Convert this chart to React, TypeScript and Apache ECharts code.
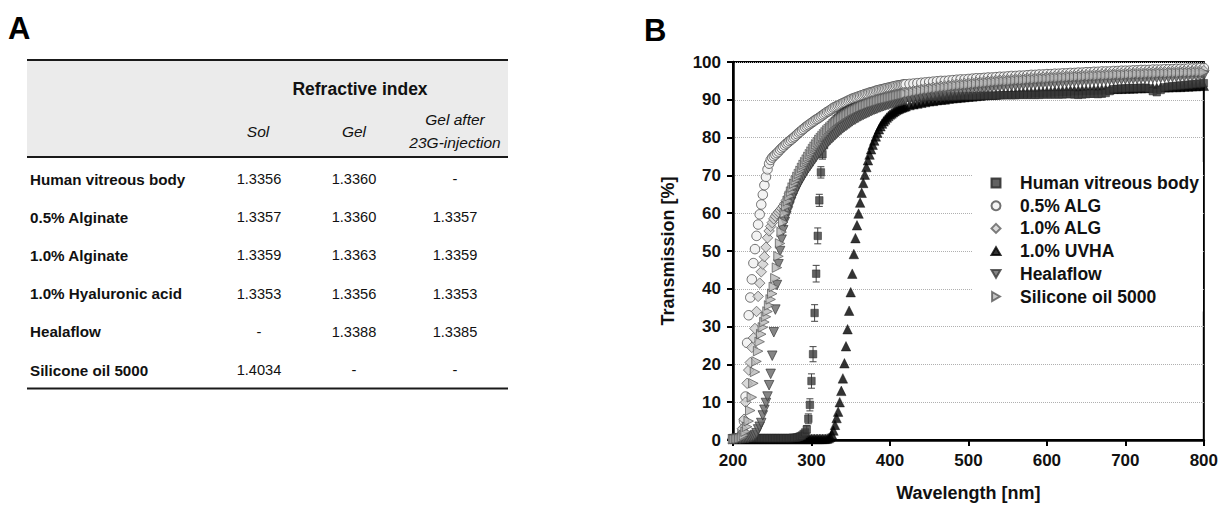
import { useEffect, useRef } from "react";
import * as echarts from "echarts";

const FONT = "'Liberation Sans', Arial, Helvetica, sans-serif";

// ---------- Panel A: refractive index table ----------
const tableTitle = "Refractive index";
const columnHeaders = [["Sol"], ["Gel"], ["Gel after", "23G-injection"]];
const tableRowLabels = [
  "Human vitreous body",
  "0.5% Alginate",
  "1.0% Alginate",
  "1.0% Hyaluronic acid",
  "Healaflow",
  "Silicone oil 5000",
];
const solValues = ["1.3356", "1.3357", "1.3359", "1.3353", "-", "1.4034"];
const gelValues = ["1.3360", "1.3360", "1.3363", "1.3356", "1.3388", "-"];
const gelInjValues = ["-", "1.3357", "1.3359", "1.3353", "1.3385", "-"];

// ---------- Panel B: transmission spectra ----------
const seriesNames = [
  "Human vitreous body",
  "0.5% ALG",
  "1.0% ALG",
  "1.0% UVHA",
  "Healaflow",
  "Silicone oil 5000",
];
const xTickValues = [200, 300, 400, 500, 600, 700, 800];

// sampling grid of wavelengths (nm): 200-420 every 2 nm, 425-800 every 5 nm
const wavelengths: number[] = [];
for (let w = 200; w <= 420; w += 2) wavelengths.push(w);
for (let w = 425; w <= 800; w += 5) wavelengths.push(w);

const hvb = [
  0.5, 0.5, 0.5, 0.5, 0.5, 0.5, 0.5, 0.5, 0.5, 0.5,
  0.5, 0.5, 0.5, 0.5, 0.5, 0.5, 0.5, 0.5, 0.5, 0.5,
  0.5, 0.5, 0.5, 0.5, 0.5, 0.5, 0.5, 0.5, 0.5, 0.5,
  0.5, 0.5, 0.5, 0.5, 0.5, 0.5, 0.5, 0.5, 0.6, 0.6,
  0.6, 0.7, 0.8, 1.0, 1.2, 1.6, 2.0, 2.8, 5.6, 9.3,
  15.6, 22.7, 33.6, 44.0, 54.0, 63.4, 70.8, 75.6, 78.0, 79.6,
  80.8, 81.8, 82.6, 83.3, 83.9, 84.4, 84.9, 85.3, 85.7, 86.0,
  86.3, 86.6, 86.9, 87.1, 87.3, 87.5, 87.7, 87.9, 88.0, 88.2,
  88.3, 88.4, 88.6, 88.7, 88.8, 88.9, 89.0, 89.1, 89.2, 89.3,
  89.4, 89.5, 89.5, 89.6, 89.7, 89.8, 89.8, 89.9, 90.0, 90.0,
  90.1, 90.2, 90.2, 90.3, 90.3, 90.4, 90.4, 90.5, 90.5, 90.6,
  90.6,
  90.6, 90.6, 90.7, 90.7, 90.7, 90.8, 90.8, 90.8, 90.8, 90.9,
  90.9, 90.9, 90.9, 91.0, 91.0, 91.0, 91.0, 91.0, 91.1, 91.1,
  91.1, 91.1, 91.1, 91.2, 91.2, 91.2, 91.2, 91.2, 91.3, 91.3,
  91.3, 91.3, 91.3, 91.3, 91.4, 91.4, 91.4, 91.4, 91.4, 91.4,
  91.5, 91.5, 91.4, 91.3, 91.4, 91.5, 91.6, 91.6, 91.5, 91.6,
  91.8, 92.3, 92.8, 92.9, 93.0, 93.0, 93.1, 93.1, 93.1, 93.2,
  93.2, 93.0, 92.3, 92.0, 92.6, 93.3, 93.5, 93.6, 93.7, 93.8,
  93.9, 94.0, 94.1, 94.2, 94.3, 94.4,
];
const hvbErrNm = [294, 296, 298, 300, 302, 304, 306, 308, 310, 312, 314];
const hvbSd = [1.0, 1.3, 1.6, 1.9, 2.0, 2.2, 2.2, 2.1, 1.6, 1.5, 1.3];

const alg05 = [
  0.3, 0.3, 0.4, 0.5, 0.7, 1.0, 2.5, 5.0, 11.5, 25.7,
  33.0, 37.7, 42.5, 46.8, 50.5, 54.0, 57.0, 59.7, 62.3, 64.9,
  67.4, 69.6, 71.6, 73.1, 74.1, 74.7, 75.1, 75.5, 75.9, 76.3,
  76.8, 77.2, 77.6, 78.0, 78.4, 78.7, 79.1, 79.4, 79.8, 80.1,
  80.5, 80.9, 81.3, 81.6, 82.0, 82.3, 82.7, 83.0, 83.3, 83.6,
  83.9, 84.2, 84.5, 84.8, 85.0, 85.3, 85.6, 85.9, 86.2, 86.5,
  86.8, 87.0, 87.3, 87.6, 87.9, 88.1, 88.3, 88.5, 88.7, 88.9,
  89.1, 89.3, 89.5, 89.7, 89.9, 90.1, 90.3, 90.4, 90.6, 90.7,
  90.9, 91.0, 91.2, 91.3, 91.5, 91.6, 91.7, 91.9, 92.0, 92.1,
  92.2, 92.4, 92.5, 92.6, 92.7, 92.8, 92.9, 93.0, 93.1, 93.2,
  93.3, 93.4, 93.5, 93.6, 93.7, 93.8, 93.8, 93.9, 94.0, 94.1,
  94.1,
  94.2, 94.3, 94.4, 94.5, 94.6, 94.7, 94.8, 94.9, 95.0, 95.0,
  95.1, 95.2, 95.3, 95.4, 95.4, 95.5, 95.6, 95.7, 95.7, 95.8,
  95.9, 95.9, 96.0, 96.1, 96.1, 96.2, 96.3, 96.3, 96.4, 96.4,
  96.5, 96.6, 96.6, 96.7, 96.7, 96.8, 96.8, 96.9, 96.9, 97.0,
  97.0, 97.1, 97.1, 97.2, 97.2, 97.3, 97.3, 97.4, 97.4, 97.5,
  97.5, 97.5, 97.6, 97.6, 97.7, 97.7, 97.7, 97.8, 97.8, 97.9,
  97.9, 97.9, 98.0, 98.0, 98.0, 98.1, 98.1, 98.1, 98.2, 98.2,
  98.2, 98.3, 98.3, 98.3, 98.4, 98.4,
];

const alg10 = [
  0.3, 0.3, 0.4, 0.5, 0.8, 1.5, 3.0, 5.5, 10.0, 15.0,
  18.5, 20.5, 24.5, 27.0, 29.5, 34.0, 38.0, 41.5, 44.5, 46.5,
  48.5, 51.0, 53.5, 55.3, 56.5, 57.5, 58.5, 59.2, 59.8, 60.3,
  60.8, 61.3, 61.9, 62.6, 63.4, 64.3, 65.2, 66.1, 67.0, 67.8,
  68.6, 69.4, 70.1, 70.8, 71.5, 72.2, 72.9, 73.6, 74.3, 75.0,
  75.8, 76.5, 77.2, 77.9, 78.6, 79.2, 79.8, 80.4, 81.0, 81.5,
  82.0, 82.5, 82.9, 83.3, 83.7, 84.1, 84.5, 84.8, 85.1, 85.4,
  85.7, 86.0, 86.3, 86.5, 86.8, 87.0, 87.3, 87.5, 87.7, 87.9,
  88.1, 88.3, 88.5, 88.7, 88.8, 89.0, 89.2, 89.3, 89.5, 89.6,
  89.8, 89.9, 90.0, 90.2, 90.3, 90.4, 90.5, 90.7, 90.8, 90.9,
  91.0, 91.1, 91.2, 91.3, 91.4, 91.5, 91.6, 91.7, 91.8, 91.9,
  92.0,
  92.2, 92.4, 92.6, 92.8, 93.0, 93.1, 93.3, 93.4, 93.6, 93.7,
  93.8, 94.0, 94.1, 94.2, 94.3, 94.4, 94.5, 94.6, 94.7, 94.8,
  94.9, 95.0, 95.1, 95.2, 95.3, 95.3, 95.4, 95.5, 95.6, 95.6,
  95.7, 95.8, 95.8, 95.9, 96.0, 96.0, 96.1, 96.2, 96.2, 96.3,
  96.3, 96.4, 96.4, 96.5, 96.5, 96.6, 96.6, 96.7, 96.7, 96.8,
  96.8, 96.9, 96.9, 97.0, 97.0, 97.0, 97.1, 97.1, 97.2, 97.2,
  97.2, 97.3, 97.3, 97.3, 97.4, 97.4, 97.4, 97.5, 97.5, 97.5,
  97.6, 97.6, 97.6, 97.7, 97.7, 97.7,
];

const uvha = [
  0.3, 0.3, 0.3, 0.3, 0.3, 0.3, 0.3, 0.3, 0.3, 0.3,
  0.3, 0.3, 0.3, 0.3, 0.3, 0.3, 0.3, 0.3, 0.3, 0.3,
  0.3, 0.3, 0.3, 0.3, 0.3, 0.3, 0.3, 0.3, 0.3, 0.3,
  0.3, 0.3, 0.3, 0.3, 0.3, 0.3, 0.3, 0.3, 0.3, 0.3,
  0.3, 0.3, 0.3, 0.3, 0.3, 0.3, 0.3, 0.3, 0.3, 0.3,
  0.3, 0.3, 0.3, 0.3, 0.3, 0.3, 0.3, 0.3, 0.3, 0.3,
  0.4, 0.5, 0.8, 1.5, 2.5, 4.0, 5.8, 7.5, 10.0, 13.0,
  16.3, 20.3, 24.8, 29.3, 34.2, 39.1, 44.0, 49.2, 53.4, 56.8,
  59.9, 62.8, 65.4, 68.0, 70.2, 72.2, 74.0, 75.5, 76.9, 78.1,
  79.2, 80.3, 81.3, 82.2, 83.0, 83.7, 84.3, 84.8, 85.3, 85.7,
  86.1, 86.4, 86.7, 87.0, 87.3, 87.5, 87.7, 87.9, 88.0, 88.2,
  88.3,
  88.6, 88.8, 89.0, 89.2, 89.4, 89.6, 89.7, 89.9, 90.0, 90.1,
  90.3, 90.4, 90.5, 90.6, 90.7, 90.8, 90.9, 91.0, 91.1, 91.2,
  91.3, 91.3, 91.4, 91.5, 91.6, 91.6, 91.7, 91.8, 91.8, 91.9,
  91.9, 92.0, 92.0, 92.1, 92.1, 92.2, 92.2, 92.3, 92.3, 92.4,
  92.4, 92.5, 92.5, 92.5, 92.6, 92.6, 92.6, 92.7, 92.7, 92.8,
  92.8, 92.8, 92.9, 92.9, 92.9, 93.0, 93.0, 93.0, 93.1, 93.1,
  93.1, 93.2, 93.2, 93.2, 93.3, 93.3, 93.3, 93.4, 93.4, 93.4,
  93.5, 93.5, 93.6, 93.6, 93.7, 93.7,
];

const healaflow = [
  0.2, 0.2, 0.2, 0.3, 0.3, 0.3, 0.4, 0.4, 0.5, 0.5,
  0.6, 0.7, 0.8, 1.0, 1.3, 1.8, 2.8, 3.5, 4.5, 6.5,
  8.0, 9.8, 11.5, 14.5, 17.5, 22.3, 28.5, 34.5, 41.0, 46.5,
  50.0, 53.0, 55.5, 57.7, 59.2, 60.5, 61.8, 63.0, 64.1, 65.1,
  66.0, 66.9, 67.7, 68.5, 69.2, 69.9, 70.6, 71.3, 71.9, 72.5,
  73.1, 73.7, 74.3, 74.9, 75.5, 76.0, 76.5, 77.0, 77.5, 78.0,
  78.5, 79.0, 79.4, 79.8, 80.2, 80.6, 81.0, 81.4, 81.8, 82.1,
  82.5, 82.8, 83.1, 83.4, 83.7, 84.0, 84.3, 84.6, 84.8, 85.1,
  85.3, 85.6, 85.8, 86.0, 86.2, 86.4, 86.6, 86.8, 87.0, 87.2,
  87.4, 87.5, 87.7, 87.9, 88.0, 88.2, 88.3, 88.5, 88.6, 88.7,
  88.9, 89.0, 89.1, 89.2, 89.4, 89.5, 89.6, 89.7, 89.8, 89.9,
  90.0,
  90.2, 90.4, 90.6, 90.8, 91.0, 91.2, 91.3, 91.5, 91.7, 91.8,
  92.0, 92.1, 92.2, 92.4, 92.5, 92.6, 92.7, 92.8, 92.9, 93.0,
  93.1, 93.2, 93.3, 93.4, 93.5, 93.6, 93.7, 93.7, 93.8, 93.9,
  94.0, 94.0, 94.1, 94.2, 94.2, 94.3, 94.4, 94.4, 94.5, 94.5,
  94.6, 94.7, 94.7, 94.8, 94.8, 94.9, 94.9, 95.0, 95.0, 95.1,
  95.1, 95.2, 95.2, 95.3, 95.3, 95.4, 95.4, 95.5, 95.5, 95.6,
  95.6, 95.7, 95.7, 95.8, 95.8, 95.9, 95.9, 96.0, 96.0, 96.1,
  96.1, 96.2, 96.2, 96.3, 96.3, 96.4,
];

const siliconeOil = [
  0.2, 0.2, 0.3, 0.3, 0.4, 0.5, 0.8, 1.3, 2.2, 3.5,
  5.0, 7.8, 11.3, 15.0, 18.0, 20.8, 23.5, 26.0, 28.0, 29.8,
  31.2, 32.6, 34.0, 35.6, 37.2, 38.7, 40.5, 42.8, 45.6, 48.6,
  52.0, 55.0, 57.6, 60.0, 61.8, 63.2, 64.5, 65.7, 66.8, 67.8,
  68.7, 69.6, 70.4, 71.2, 72.0, 72.8, 73.5, 74.2, 74.9, 75.6,
  76.3, 77.0, 77.6, 78.2, 78.8, 79.4, 79.9, 80.4, 80.9, 81.4,
  81.9, 82.3, 82.7, 83.1, 83.5, 83.9, 84.2, 84.5, 84.8, 85.1,
  85.4, 85.7, 86.0, 86.2, 86.5, 86.7, 87.0, 87.2, 87.4, 87.6,
  87.8, 88.0, 88.2, 88.4, 88.5, 88.7, 88.9, 89.0, 89.2, 89.3,
  89.4, 89.6, 89.7, 89.8, 90.0, 90.1, 90.2, 90.3, 90.4, 90.5,
  90.6, 90.7, 90.8, 90.9, 91.0, 91.1, 91.2, 91.3, 91.4, 91.5,
  91.6,
  91.8, 92.0, 92.2, 92.4, 92.6, 92.7, 92.9, 93.0, 93.2, 93.3,
  93.4, 93.6, 93.7, 93.8, 93.9, 94.0, 94.1, 94.2, 94.3, 94.4,
  94.5, 94.6, 94.7, 94.8, 94.9, 94.9, 95.0, 95.1, 95.2, 95.2,
  95.3, 95.4, 95.4, 95.5, 95.6, 95.6, 95.7, 95.8, 95.8, 95.9,
  95.9, 96.0, 96.0, 96.1, 96.1, 96.2, 96.2, 96.3, 96.3, 96.4,
  96.4, 96.5, 96.5, 96.6, 96.6, 96.6, 96.7, 96.7, 96.8, 96.8,
  96.8, 96.9, 96.9, 96.9, 97.0, 97.0, 97.0, 97.1, 97.1, 97.1,
  97.2, 97.2, 97.2, 97.3, 97.3, 97.3,
];

const pairs = (vals: number[]) => vals.map((v, i) => [wavelengths[i], v]);

const SYM_DOWN = "path://M0,0L10,0L5,8.66Z";
const SYM_RIGHT = "path://M0,0L8.66,5L0,10Z";
const SYM_UP = "path://M5,0L10,8.66L0,8.66Z";

function buildTableGraphics(): any[] {
  const g: any[] = [];
  const x0 = 27;
  const x1 = 508;
  const colX = [259, 354, 455];
  const rowY0 = 179;
  const rowStep = 38.2;
  const txt = (text: string, x: number, y: number, font: string, align = "center") => ({
    type: "text",
    x,
    y,
    silent: true,
    style: { text, font, fill: "#111", align, verticalAlign: "middle" },
  });
  g.push({ type: "rect", silent: true, shape: { x: x0, y: 60, width: x1 - x0, height: 97 }, style: { fill: "#ebebeb" } });
  g.push({ type: "line", silent: true, shape: { x1: x0, y1: 60, x2: x1, y2: 60 }, style: { stroke: "#1a1a1a", lineWidth: 2 } });
  g.push({ type: "line", silent: true, shape: { x1: x0, y1: 157, x2: x1, y2: 157 }, style: { stroke: "#1a1a1a", lineWidth: 2 } });
  g.push({ type: "line", silent: true, shape: { x1: x0, y1: 388.5, x2: x1, y2: 388.5 }, style: { stroke: "#1a1a1a", lineWidth: 2 } });
  g.push(txt(tableTitle, 360, 89, `bold 17.5px ${FONT}`));
  columnHeaders.forEach((lines, c) => {
    if (lines.length === 1) {
      g.push(txt(lines[0], c === 0 ? 258 : colX[c], 131, `italic 15.5px ${FONT}`));
    } else {
      g.push(txt(lines[0], colX[c], 119, `italic 15.5px ${FONT}`));
      g.push(txt(lines[1], colX[c], 142, `italic 15.5px ${FONT}`));
    }
  });
  tableRowLabels.forEach((label, r) => {
    const y = rowY0 + r * rowStep;
    g.push(txt(label, 30, y, `bold 15.2px ${FONT}`, "left"));
    [solValues, gelValues, gelInjValues].forEach((col, c) => {
      g.push(txt(col[r], colX[c], y, `14.6px ${FONT}`));
    });
  });
  g.push({ type: "text", x: 8, y: 28, silent: true, style: { text: "A", font: `bold 31px ${FONT}`, fill: "#000", align: "left", verticalAlign: "middle" } });
  g.push({ type: "text", x: 644, y: 30, silent: true, style: { text: "B", font: `bold 31px ${FONT}`, fill: "#000", align: "left", verticalAlign: "middle" } });
  return g;
}

export default function App() {
  const ref = useRef<HTMLDivElement>(null);
  useEffect(() => {
    if (!ref.current) return;
    const chart = echarts.init(ref.current, undefined, { renderer: "svg" });
    const hvbErrData = hvbErrNm.map((nm, i) => {
      const v = hvb[wavelengths.indexOf(nm)];
      return [nm, v - hvbSd[i], v + hvbSd[i]];
    });
    const scatterBase = { type: "scatter", z: 3 };
    const legendIcons = ["rect", "circle", "diamond", SYM_UP, SYM_DOWN, SYM_RIGHT];
    const option: any = {
      animation: false,
      backgroundColor: "#fff",
      textStyle: { fontFamily: FONT },
      grid: {
        left: 733,
        top: 62,
        right: 14,
        bottom: 63,
        show: true,
        borderColor: "#000",
        borderWidth: 2,
        backgroundColor: "transparent",
      },
      xAxis: {
        type: "value",
        min: 200,
        max: 800,
        interval: 100,
        name: "Wavelength [nm]",
        nameLocation: "middle",
        nameGap: 44,
        nameTextStyle: { fontFamily: FONT, fontWeight: "bold", fontSize: 18, color: "#111" },
        axisLine: { show: true, onZero: false, lineStyle: { color: "#000", width: 2.5 } },
        axisTick: { show: true, inside: false, length: 6, lineStyle: { color: "#000", width: 2 } },
        axisLabel: {
          margin: 12,
          fontFamily: FONT,
          fontWeight: "bold",
          fontSize: 17,
          color: "#111",
          formatter: (v: number) => (xTickValues.includes(v) ? String(v) : ""),
        },
        splitLine: { show: false },
      },
      yAxis: {
        type: "value",
        min: 0,
        max: 100,
        interval: 10,
        name: "Transmission [%]",
        nameLocation: "middle",
        nameGap: 56,
        nameRotate: 90,
        nameTextStyle: { fontFamily: FONT, fontWeight: "bold", fontSize: 18, color: "#111" },
        axisLine: { show: true, onZero: false, lineStyle: { color: "#000", width: 2.5 } },
        axisTick: { show: true, inside: false, length: 6, lineStyle: { color: "#000", width: 2 } },
        axisLabel: { margin: 12, fontFamily: FONT, fontWeight: "bold", fontSize: 17, color: "#111" },
        splitLine: { show: true, lineStyle: { type: "dotted", color: "#b0b0b0", width: 1 } },
      },
      legend: {
        data: seriesNames.map((name, i) => ({ name, icon: legendIcons[i] })),
        orient: "vertical",
        left: 972,
        top: 162,
        padding: [12, 4, 6, 18.5],
        backgroundColor: "#fff",
        itemWidth: 9,
        itemHeight: 9,
        itemGap: 4.7,
        symbolRotate: 0,
        symbolKeepAspect: true,
        selectedMode: false,
        textStyle: {
          fontFamily: FONT,
          fontWeight: "bold",
          fontSize: 17.5,
          color: "#111",
          padding: [0, 0, 0, 14.5],
        },
        z: 10,
      },
      graphic: buildTableGraphics(),
      series: [
        {
          ...scatterBase,
          name: seriesNames[1],
          data: pairs(alg05),
          symbol: "circle",
          symbolSize: 9.5,
          itemStyle: { color: "#f0f0f0", borderColor: "#4e4e4e", borderWidth: 1 },
        },
        {
          ...scatterBase,
          name: seriesNames[2],
          data: pairs(alg10),
          symbol: "diamond",
          symbolSize: 10.5,
          itemStyle: { color: "#cfcfcf", borderColor: "#5f5f5f", borderWidth: 1 },
        },
        {
          ...scatterBase,
          name: seriesNames[3],
          data: pairs(uvha),
          symbol: SYM_UP,
          symbolSize: 9.5,
          itemStyle: { color: "#000", borderColor: "#000", borderWidth: 0.5 },
        },
        {
          type: "custom",
          name: "hvb-sd",
          z: 3,
          silent: true,
          data: hvbErrData,
          renderItem: (_p: any, api: any) => {
            const x = api.value(0);
            const lo = api.coord([x, api.value(1)]);
            const hi = api.coord([x, api.value(2)]);
            const hw = 3.5;
            const st = { stroke: "#444", lineWidth: 1 };
            return {
              type: "group",
              children: [
                { type: "line", shape: { x1: lo[0], y1: lo[1], x2: hi[0], y2: hi[1] }, style: st },
                { type: "line", shape: { x1: lo[0] - hw, y1: lo[1], x2: lo[0] + hw, y2: lo[1] }, style: st },
                { type: "line", shape: { x1: hi[0] - hw, y1: hi[1], x2: hi[0] + hw, y2: hi[1] }, style: st },
              ],
            };
          },
        },
        {
          ...scatterBase,
          name: seriesNames[0],
          data: pairs(hvb),
          symbol: "rect",
          symbolSize: 7.5,
          itemStyle: { color: "#3a3a3a", borderColor: "#222", borderWidth: 0.6 },
        },
        {
          ...scatterBase,
          name: seriesNames[4],
          data: pairs(healaflow),
          symbol: SYM_DOWN,
          symbolSize: 9.5,
          itemStyle: { color: "#666", borderColor: "#383838", borderWidth: 0.9 },
        },
        {
          ...scatterBase,
          name: seriesNames[5],
          data: pairs(siliconeOil),
          symbol: SYM_RIGHT,
          symbolSize: 9.5,
          itemStyle: { color: "#b8b8b8", borderColor: "#555", borderWidth: 0.9 },
        },
      ],
    };
    chart.setOption(option);
    return () => chart.dispose();
  }, []);
  return (
    <div
      ref={ref}
      style={{ position: "absolute", left: 0, top: 0, width: 1221, height: 507, background: "#fff" }}
    />
  );
}
